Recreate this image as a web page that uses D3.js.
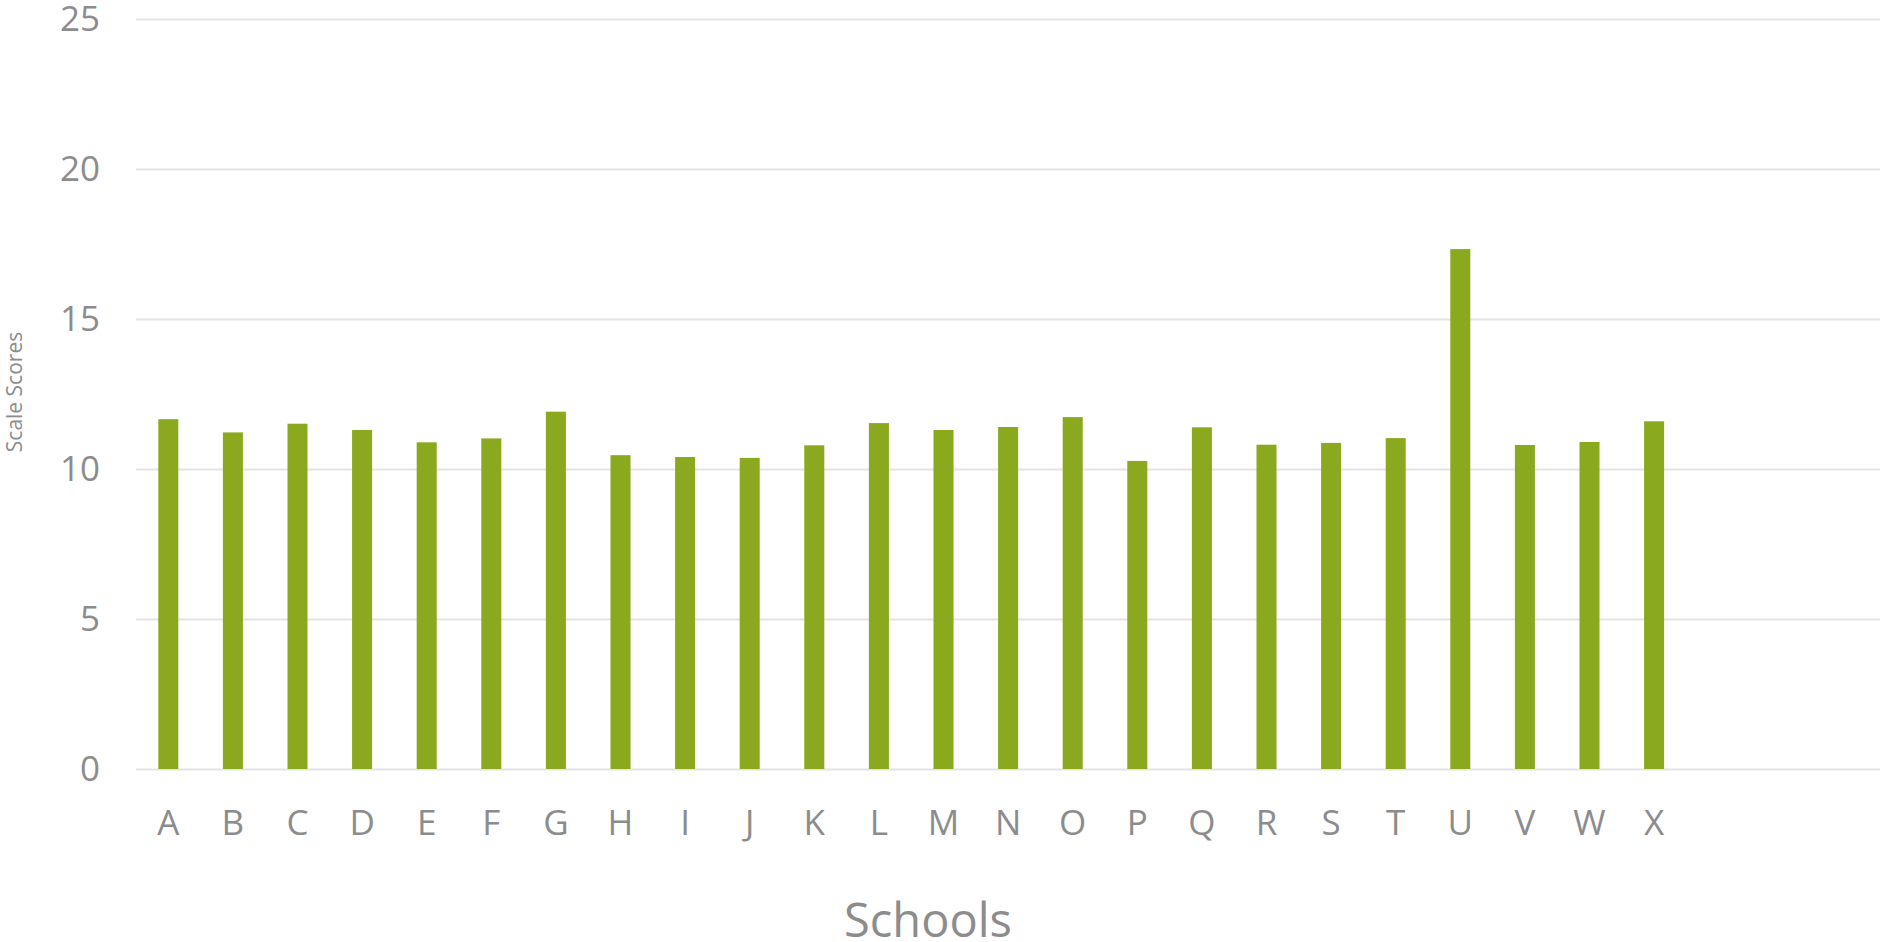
<!DOCTYPE html>
<html>
<head>
<meta charset="utf-8">
<script src="https://cdn.jsdelivr.net/npm/d3@7"></script>
<style>
    html, body { margin: 0; padding: 0; background: #fff; }
    svg { display: block; font-family: "Open Sans", sans-serif; }
</style>
</head>
<body>
<div id="chart"></div>
<script>
// --- DATA ---
const schools = ['A','B','C','D','E','F','G','H','I','J','K','L','M','N','O','P','Q','R','S','T','U','V','W','X'];
const scores = [11.66, 11.22, 11.51, 11.30, 10.89, 11.02, 11.91, 10.46, 10.40, 10.37, 10.79, 11.53,
                11.30, 11.40, 11.73, 10.27, 11.39, 10.81, 10.87, 11.03, 17.33, 10.80, 10.90, 11.59];
const yTicks = [0, 5, 10, 15, 20, 25];

// --- LAYOUT ---
const width = 1880, height = 942;
const plotLeft = 136, plotRight = 1880, plotTop = 19, plotBottom = 769;
const step = 64.6;
const textColor = '#8c8c8c';

const svg = d3.select('#chart').append('svg')
    .attr('width', width)
    .attr('height', height);

const x = d3.scaleBand()
    .domain(schools)
    .range([plotLeft, plotLeft + schools.length * step])
    .paddingInner(0.69)
    .paddingOuter(0.345);

const y = d3.scaleLinear()
    .domain([0, 25])
    .range([plotBottom, plotTop]);

// gridlines + y labels
const yAxis = svg.append('g')
    .attr('transform', `translate(${plotLeft},0)`)
    .call(d3.axisLeft(y).tickValues(yTicks).tickSize(-(plotRight - plotLeft)).tickPadding(36));
yAxis.select('.domain').remove();
yAxis.selectAll('line').attr('stroke', '#e3e3e3').attr('stroke-width', 2);
yAxis.selectAll('text')
    .attr('fill', textColor)
    .style('font-size', '35px')
    .style('font-family', '"Open Sans", sans-serif');

// bars
svg.append('g')
    .selectAll('rect')
    .data(schools)
    .join('rect')
    .attr('x', d => x(d))
    .attr('width', x.bandwidth())
    .attr('y', (d, i) => y(scores[i]))
    .attr('height', (d, i) => y(0) - y(scores[i]))
    .attr('fill', '#8aa91f');

// x labels
const xAxis = svg.append('g')
    .attr('transform', `translate(0,${plotBottom})`)
    .call(d3.axisBottom(x).tickSize(0).tickPadding(41));
xAxis.select('.domain').remove();
xAxis.selectAll('text')
    .attr('fill', textColor)
    .style('font-size', '35px')
    .style('font-family', '"Open Sans", sans-serif');

// axis titles
svg.append('text')
    .attr('x', 928)
    .attr('y', 937)
    .attr('text-anchor', 'middle')
    .attr('fill', textColor)
    .style('font-size', '47px')
    .text('Schools');

svg.append('text')
    .attr('transform', 'translate(22,392) rotate(-90)')
    .attr('text-anchor', 'middle')
    .attr('fill', textColor)
    .style('font-size', '21px')
    .text('Scale Scores');
</script>
</body>
</html>
